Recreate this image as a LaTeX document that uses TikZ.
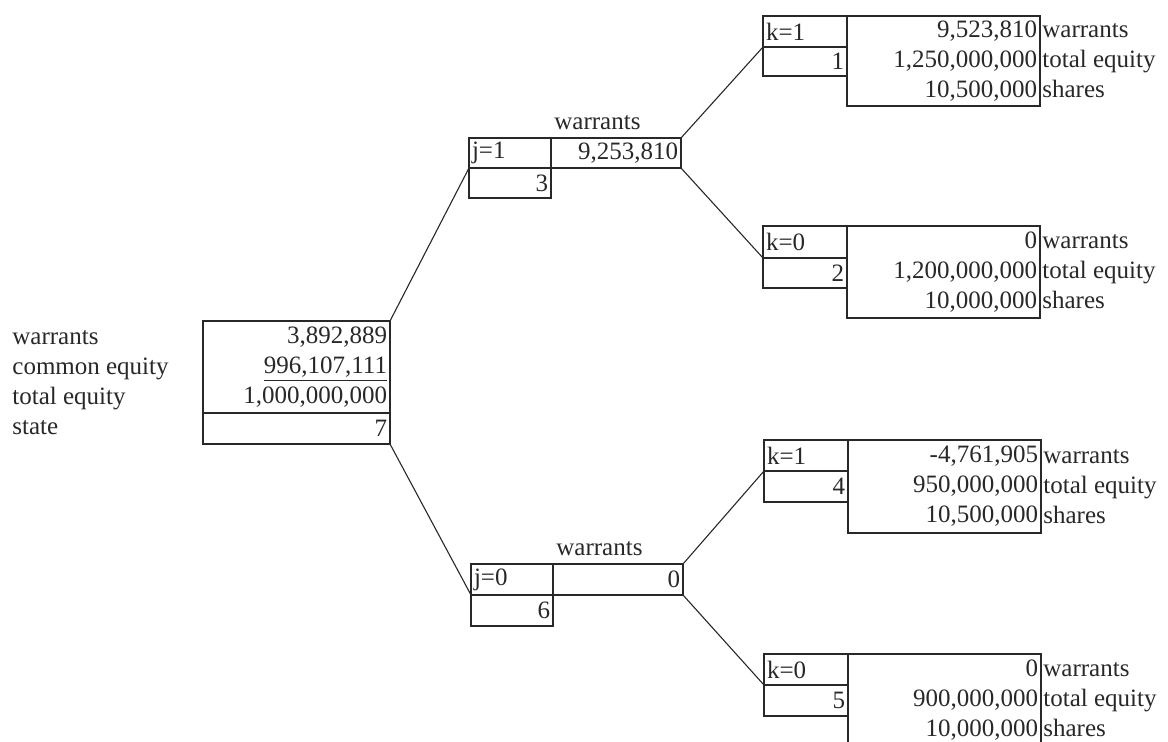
\documentclass[tikz,border=0pt]{standalone}
\usepackage{fontspec}
\setmainfont{Liberation Serif}
\usepackage{tikz}
\usetikzlibrary{positioning}
\definecolor{ink}{RGB}{40, 40, 40}

\begin{document}
\begin{tikzpicture}[x=0.5pt, y=-0.5pt, font=\fontsize{12.5}{15}\selectfont, ink,
    cell/.style={draw=ink, line width=0.75pt, inner xsep=1.5pt, inner ysep=0pt,
                 outer sep=0pt, anchor=north west},
    num/.style={cell, align=right},
    tag/.style={cell, align=left},
    side/.style={align=left, inner sep=1pt, anchor=west},
    edge/.style={draw=ink, line width=0.55pt}]
    \useasboundingbox (0,0) rectangle (1168,742);

    % Root node
    \node[side] (rootlbl) at (10,383) {warrants\\common equity\\total equity\\state};
    \node[num, text width=90.5pt, minimum height=46pt] (root) at (203,321)
        {3,892,889\\\underline{996,107,111}\\1,000,000,000};
    \node[num, text width=90.5pt, minimum height=15.5pt] (root7) at (root.south west) {7};

    % First step, j=1
    \node[tag, text width=38pt, minimum height=15pt] (j1) at (469,138) {j=1};
    \node[num, text width=62pt, minimum height=15pt] (j1w) at (j1.north east) {9,253,810};
    \node[num, text width=38pt, minimum height=15pt] (j1s) at (j1.south west) {3};
    \node[anchor=base west, inner sep=0pt] (j1lbl) at ([xshift=1.5pt, yshift=4pt]j1w.north west) {warrants};

    % First step, j=0
    \node[tag, text width=38pt, minimum height=15.5pt] (j0) at (471,564) {j=0};
    \node[num, text width=62pt, minimum height=15.5pt] (j0w) at (j0.north east) {0};
    \node[num, text width=38pt, minimum height=15.5pt] (j0s) at (j0.south west) {6};
    \node[anchor=base west, inner sep=0pt] (j0lbl) at ([xshift=1.5pt, yshift=4pt]j0w.north west) {warrants};

    % Second step, upper branch
    \node[tag, text width=39pt, minimum height=15.5pt] (k1a) at (763,16) {k=1};
    \node[num, text width=39pt, minimum height=14.5pt] (k1as) at (k1a.south west) {1};
    \node[num, text width=93.5pt, minimum height=45pt] (k1av) at (k1a.north east)
        {9,523,810\\1,250,000,000\\10,500,000};
    \node[side] (k1al) at (k1av.east) {warrants\\total equity\\shares};

    \node[tag, text width=39pt, minimum height=16pt] (k0a) at (763,226) {k=0};
    \node[num, text width=39pt, minimum height=15pt] (k0as) at (k0a.south west) {2};
    \node[num, text width=93.5pt, minimum height=46pt] (k0av) at (k0a.north east)
        {0\\1,200,000,000\\10,000,000};
    \node[side] (k0al) at (k0av.east) {warrants\\total equity\\shares};

    % Second step, lower branch
    \node[tag, text width=39pt, minimum height=15.5pt] (k1b) at (764,440) {k=1};
    \node[num, text width=39pt, minimum height=15.5pt] (k1bs) at (k1b.south west) {4};
    \node[num, text width=93.5pt, minimum height=46.5pt] (k1bv) at (k1b.north east)
        {-4,761,905\\950,000,000\\10,500,000};
    \node[side] (k1bl) at (k1bv.east) {warrants\\total equity\\shares};

    \node[tag, text width=39pt, minimum height=15.5pt] (k0b) at (764,654) {k=0};
    \node[num, text width=39pt, minimum height=15.5pt] (k0bs) at (k0b.south west) {5};
    \node[num, text width=93.5pt, minimum height=46pt] (k0bv) at (k0b.north east)
        {0\\900,000,000\\10,000,000};
    \node[side] (k0bl) at (k0bv.east) {warrants\\total equity\\shares};

    % Branches
    \draw[edge] (root.north east) -- (j1.south west);
    \draw[edge] (root7.south east) -- (j0.south west);
    \draw[edge] (j1w.north east) -- (k1a.south west);
    \draw[edge] (j1w.south east) -- (k0a.south west);
    \draw[edge] (j0w.north east) -- (k1b.south west);
    \draw[edge] (j0w.south east) -- (k0b.south west);
\end{tikzpicture}
\end{document}
